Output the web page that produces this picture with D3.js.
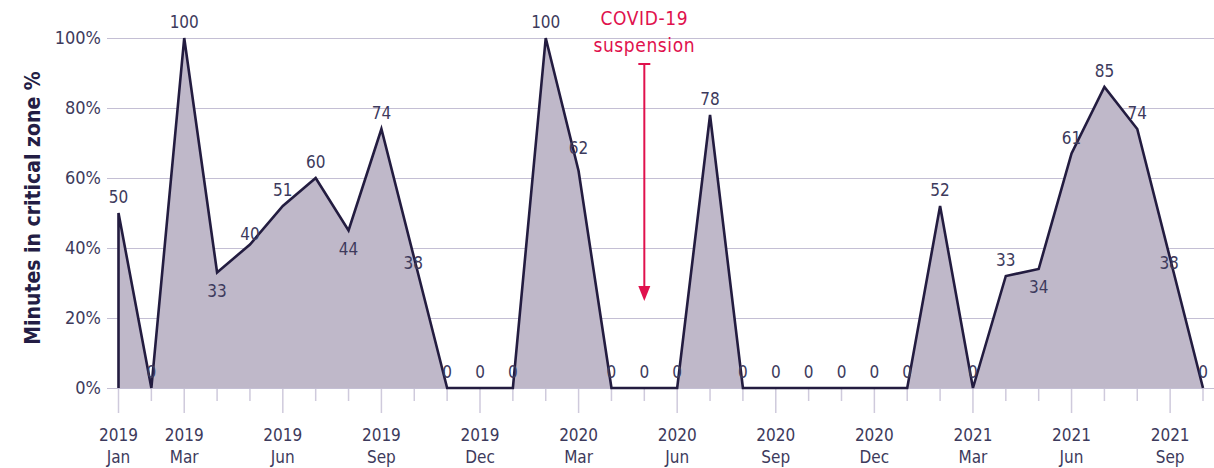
<!DOCTYPE html>
<html>
<head>
<meta charset="utf-8">
<script src="https://cdnjs.cloudflare.com/ajax/libs/d3/7.8.5/d3.min.js"></script>
<style>
  body { margin: 0; background: #fff; }
  text { font-family: "Liberation Sans Narrow", "DejaVu Sans Condensed", "Roboto", sans-serif; }
  .tick-label, .value-label, .y-label { fill: #3d3a5c; }
</style>
</head>
<body>
<div id="chart"></div>
<script>
// chart size
let svgWidth = 1214,
  svgHeight = 468;

// months, Jan 2019 .. Oct 2021
let months = [
  "2019-01", "2019-02", "2019-03", "2019-04", "2019-05", "2019-06",
  "2019-07", "2019-08", "2019-09", "2019-10", "2019-11", "2019-12",
  "2020-01", "2020-02", "2020-03", "2020-04", "2020-05", "2020-06",
  "2020-07", "2020-08", "2020-09", "2020-10", "2020-11", "2020-12",
  "2021-01", "2021-02", "2021-03", "2021-04", "2021-05", "2021-06",
  "2021-07", "2021-08", "2021-09", "2021-10",
];

// minutes in critical zone, %
let values = [
  50, 0, 100, 33, 41, 52, 60, 45, 74, 37, 0, 0,
  0, 100, 62, 0, 0, 0, 78, 0, 0, 0, 0, 0,
  0, 52, 0, 32, 34, 67, 86, 74, 37, 0,
];

// labels printed on the chart
let valueLabels = [
  "50", "0", "100", "33", "40", "51", "60", "44", "74", "38", "0", "0",
  "0", "100", "62", "0", "0", "0", "78", "0", "0", "0", "0", "0",
  "0", "52", "0", "33", "34", "61", "85", "74", "38", "0",
];

// months that get a year/month label
let labelledMonths = [
  "2019-01", "2019-03", "2019-06", "2019-09", "2019-12", "2020-03",
  "2020-06", "2020-09", "2020-12", "2021-03", "2021-06", "2021-09",
];
let monthNames = ["Jan", "Feb", "Mar", "Apr", "May", "Jun", "Jul", "Aug", "Sep", "Oct", "Nov", "Dec"];

let yTicks = [0, 20, 40, 60, 80, 100];

let annotationMonth = "2020-05";
let annotationText = ["COVID-19", "suspension"];

let data = months.map((m, i) => ({ month: m, value: values[i], label: valueLabels[i] }));

let svg = d3
  .select("#chart")
  .append("svg")
  .attr("width", svgWidth)
  .attr("height", svgHeight);

// scales
let xScale = d3.scalePoint().domain(months).range([118.5, 1203]);
let yScale = d3.scaleLinear().domain([0, 100]).range([388, 38]);

// grid lines
svg
  .append("g")
  .selectAll("line")
  .data(yTicks)
  .enter()
  .append("line")
  .attr("x1", 107)
  .attr("x2", svgWidth)
  .attr("y1", (d) => yScale(d) + 0.5)
  .attr("y2", (d) => yScale(d) + 0.5)
  .attr("stroke", "#c4bfd4")
  .attr("stroke-width", 1.2);

// y tick labels
svg
  .append("g")
  .selectAll("text")
  .data(yTicks)
  .enter()
  .append("text")
  .classed("y-label", true)
  .attr("x", 101)
  .attr("y", (d) => yScale(d) + 6)
  .attr("text-anchor", "end")
  .attr("font-size", "18px")
  .text((d) => d + "%");

// y axis title
svg
  .append("text")
  .attr("transform", `translate(40, ${yScale(50) - 5}) rotate(-90)`)
  .attr("text-anchor", "middle")
  .attr("font-size", "21px")
  .attr("font-weight", "bold")
  .attr("fill", "#231d44")
  .text("Minutes in critical zone %");

// x ticks
let xTicks = svg.append("g");
xTicks
  .selectAll("line")
  .data(months)
  .enter()
  .append("line")
  .attr("x1", (d) => xScale(d))
  .attr("x2", (d) => xScale(d))
  .attr("y1", 389)
  .attr("y2", (d) => (labelledMonths.includes(d) ? 413 : 401))
  .attr("stroke", "#cfcadc")
  .attr("stroke-width", 1.5);

let xLabels = xTicks
  .selectAll("text")
  .data(labelledMonths)
  .enter()
  .append("text")
  .classed("tick-label", true)
  .attr("text-anchor", "middle")
  .attr("font-size", "17px");
xLabels
  .append("tspan")
  .attr("x", (d) => xScale(d))
  .attr("y", 441)
  .text((d) => d.slice(0, 4));
xLabels
  .append("tspan")
  .attr("x", (d) => xScale(d))
  .attr("y", 463)
  .text((d) => monthNames[+d.slice(5) - 1]);

// area + outline
let area = d3
  .area()
  .x((d) => xScale(d.month))
  .y0(yScale(0))
  .y1((d) => yScale(d.value));

svg
  .append("path")
  .datum(data)
  .attr("d", area)
  .attr("fill", "#bfb8c9");

let outline = d3
  .line()
  .x((d) => xScale(d.month))
  .y((d) => yScale(d.value));

svg
  .append("path")
  .datum([{ month: months[0], value: 0 }].concat(data))
  .attr("d", outline)
  .attr("fill", "none")
  .attr("stroke", "#231c40")
  .attr("stroke-width", 2.6)
  .attr("stroke-linejoin", "miter");

// value labels: mostly above the point, a few below or nudged
let labelOffsets = { 3: 24, 4: -5, 7: 24, 9: 10, 14: -17, 28: 24, 32: 10 };
let labelShiftX = { 9: -1, 32: -1 };
svg
  .append("g")
  .selectAll("text")
  .data(data)
  .enter()
  .append("text")
  .classed("value-label", true)
  .attr("x", (d, i) => xScale(d.month) + (labelShiftX[i] || 0))
  .attr("y", (d, i) => yScale(d.value) + (i in labelOffsets ? labelOffsets[i] : -10))
  .attr("text-anchor", "middle")
  .attr("font-size", "17px")
  .text((d) => d.label);

// COVID annotation
let ax = xScale(annotationMonth);
svg
  .append("g")
  .selectAll("text")
  .data(annotationText)
  .enter()
  .append("text")
  .attr("x", ax)
  .attr("y", (d, i) => 25 + i * 27)
  .attr("text-anchor", "middle")
  .attr("font-family", "'Noto Sans', 'Open Sans', sans-serif")
  .attr("font-size", "19px")
  .attr("letter-spacing", "0.6px")
  .attr("fill", "#e0114d")
  .text((d) => d);

svg
  .append("line")
  .attr("x1", ax)
  .attr("x2", ax)
  .attr("y1", 64)
  .attr("y2", 288)
  .attr("stroke", "#e0114d")
  .attr("stroke-width", 2);
svg
  .append("line")
  .attr("x1", ax - 6)
  .attr("x2", ax + 6)
  .attr("y1", 64)
  .attr("y2", 64)
  .attr("stroke", "#e0114d")
  .attr("stroke-width", 2);
svg
  .append("path")
  .attr("d", `M${ax - 6},286 L${ax + 6},286 L${ax},301 Z`)
  .attr("fill", "#e0114d");
</script>
</body>
</html>
